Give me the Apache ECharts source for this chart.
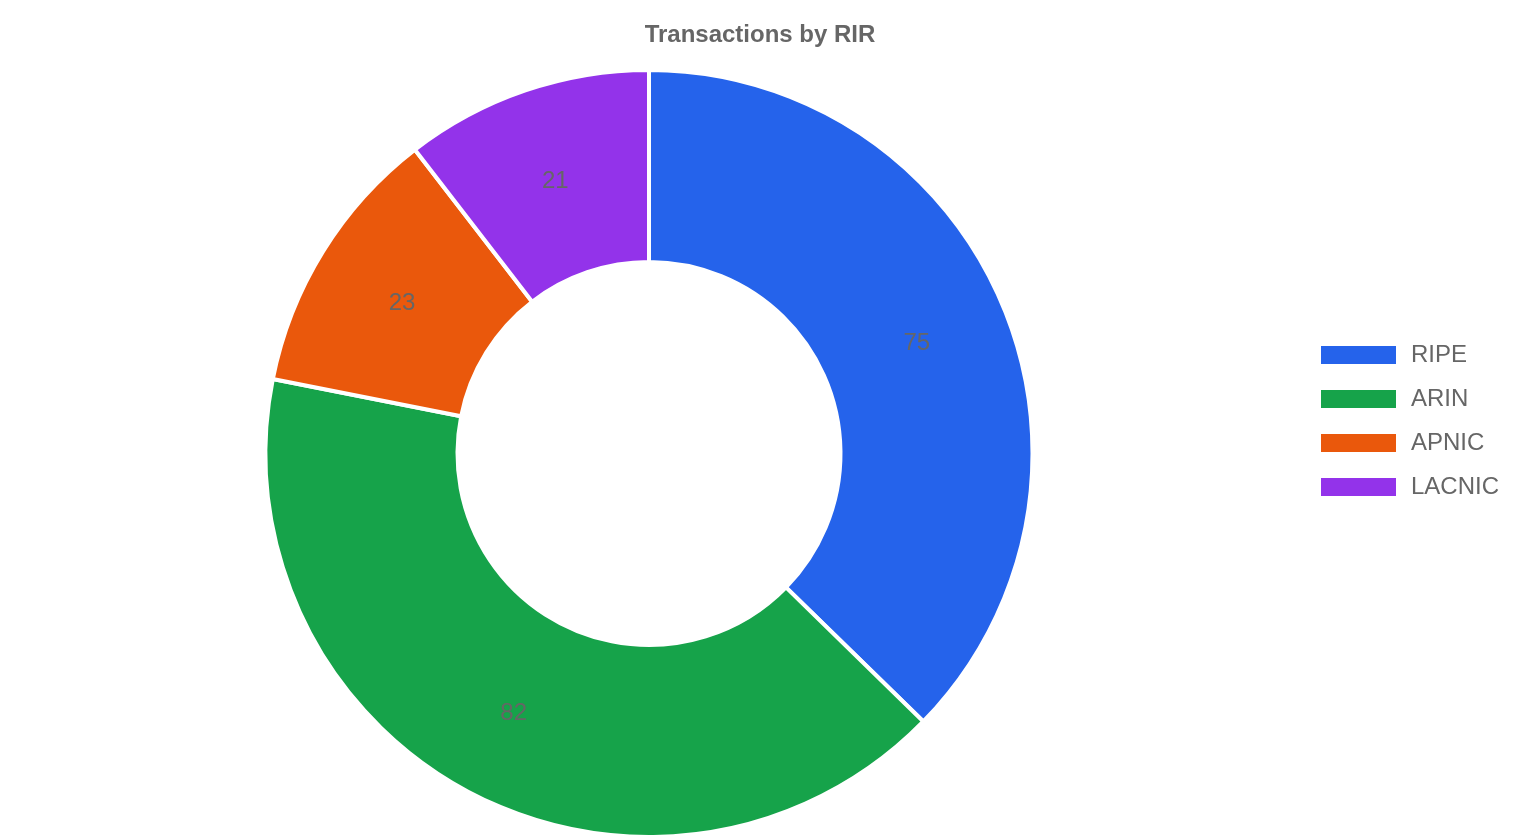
<!DOCTYPE html>
<html>
<head>
<meta charset="utf-8">
<script src="https://cdn.jsdelivr.net/npm/echarts@6/dist/echarts.min.js"></script>
<style>
html,body{margin:0;padding:0;background:#fff;}
#chart{width:1520px;height:840px;}
</style>
</head>
<body>
<div id="chart"></div>
<script>
const categories = ["RIPE", "ARIN", "APNIC", "LACNIC"];
const values = [75, 82, 23, 21];
const colors = ["#2563eb", "#16a34a", "#ea580c", "#9333ea"];

const chart = echarts.init(document.getElementById('chart'));
chart.setOption({
  animation: false,
  title: {
    text: 'Transactions by RIR',
    left: 'center',
    top: 23,
    padding: 0,
    textStyle: { fontFamily: 'Liberation Sans', fontSize: 24, fontWeight: 'bold', color: '#666' }
  },
  legend: {
    orient: 'vertical',
    left: 1319,
    top: 343,
    itemWidth: 77,
    itemHeight: 20,
    itemGap: 20,
    icon: 'rect',
    padding: 0,
    textStyle: { fontFamily: 'Liberation Sans', fontSize: 24, color: '#666', padding: [0, 0, 0, 9] },
    data: categories
  },
  series: [{
    type: 'pie',
    center: [649, 453.5],
    radius: [191.5, 383.5],
    startAngle: 90,
    clockwise: true,
    avoidLabelOverlap: false,
    itemStyle: { borderColor: '#fff', borderWidth: 4 },
    label: {
      show: true,
      position: 'inside',
      formatter: '{v|{c}}',
      rich: {
        v: {
          fontFamily: 'Liberation Sans',
          fontSize: 24,
          color: '#666',
          padding: [6, 0, 0, 0]
        }
      }
    },
    labelLine: { show: false },
    data: categories.map((n, i) => ({ name: n, value: values[i], itemStyle: { color: colors[i] } }))
  }]
});
</script>
</body>
</html>
